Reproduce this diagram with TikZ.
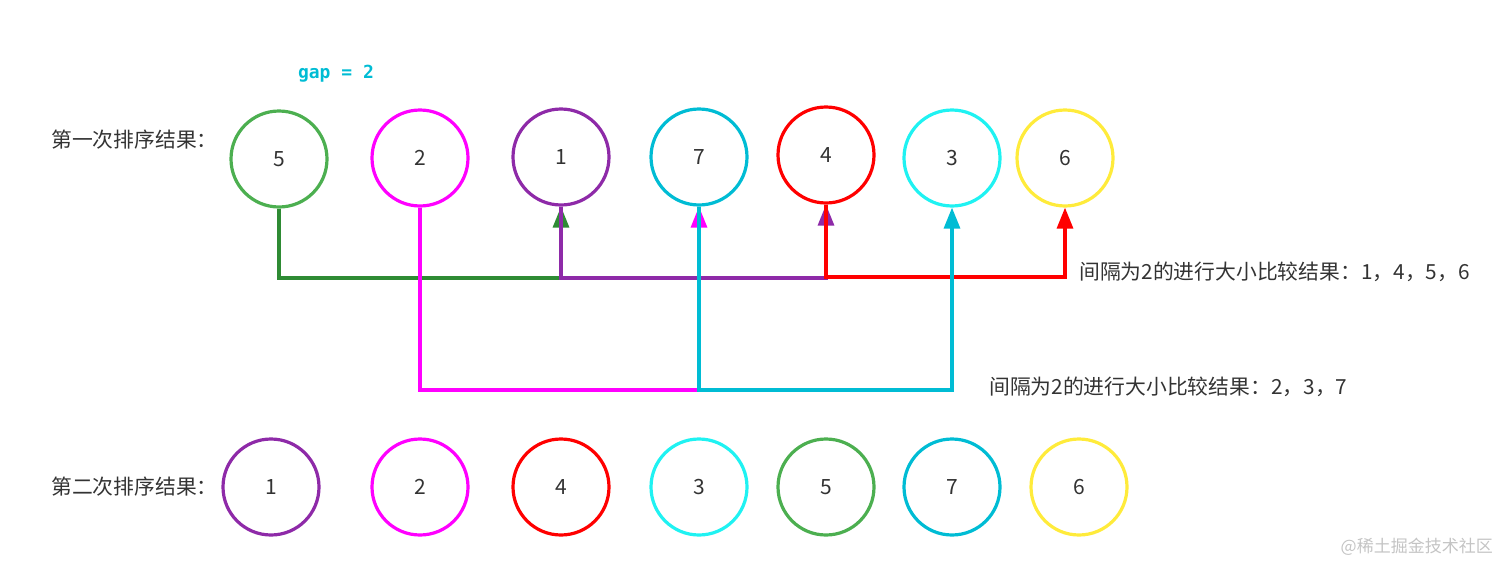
\documentclass[tikz,border=0pt]{standalone}
\usepackage{fontspec}
\setmainfont{Noto Sans CJK SC}
\newfontfamily\gapfont{DejaVu Sans Mono}
\usetikzlibrary{arrows.meta}
\definecolor{txt}{HTML}{333333}
\definecolor{cgreen}{HTML}{4CAF50}
\definecolor{cgreenline}{HTML}{2E8B34}
\definecolor{cmag}{HTML}{FF00FF}
\definecolor{cpur}{HTML}{8E2AA8}
\definecolor{cteal}{HTML}{00BCD4}
\definecolor{cred}{HTML}{FF0000}
\definecolor{ccyan}{HTML}{1FF2F2}
\definecolor{cyel}{HTML}{FFEB3B}
\definecolor{wm}{HTML}{C4C4C4}
\begin{document}
\begin{tikzpicture}[x=1pt,y=-1pt,
  ball/.style={circle, draw=#1, line width=3.2pt, minimum size=96pt, inner sep=0pt,
    text=txt, font=\fontsize{21}{24}\selectfont},
  conn/.style={line width=3.2pt, draw=#1},
  tipc/.style={-{Triangle[width=16pt,length=21pt,color=#1]}},
  lbl/.style={anchor=west, text=txt, inner sep=0pt, font=\fontsize{20.8}{24}\selectfont}]
\useasboundingbox (0,0) rectangle (1512,573);
% top row
\node[ball=cgreen] (t5) at (279,159) {5};
\node[ball=cmag]   (t2) at (420,158) {2};
\node[ball=cpur]   (t1) at (561,157) {1};
\node[ball=cteal]  (t7) at (699,157) {7};
\node[ball=cred]   (t4) at (826,155) {4};
\node[ball=ccyan]  (t3) at (952,158) {3};
\node[ball=cyel]   (t6) at (1065,158) {6};
% bottom row
\node[ball=cpur]   (b1) at (271,487) {1};
\node[ball=cmag]   (b2) at (420,487) {2};
\node[ball=cred]   (b4) at (561,487) {4};
\node[ball=ccyan]  (b3) at (699,487) {3};
\node[ball=cgreen] (b5) at (826,487) {5};
\node[ball=cteal]  (b7) at (952,487) {7};
\node[ball=cyel]   (b6) at (1079,487) {6};
% labels
\node[text=cteal, font=\gapfont\bfseries\fontsize{18}{20}\selectfont] (gap) at (336,74) {gap = 2};
\node[lbl] (l1) at (51,140) {第一次排序结果：};
\node[lbl] (l2) at (51,487) {第二次排序结果：};
\node[lbl] (r1t) at (1079,272) {间隔为2的进行大小比较结果：1，4，5，6};
\node[lbl] (r2t) at (989,387) {间隔为2的进行大小比较结果：2，3，7};
\node[text=wm, anchor=east, inner sep=0pt, font=\fontsize{17}{20}\selectfont] (wmk) at (1493,547) {@稀土掘金技术社区};
% levels
\coordinate (ya) at (0,278);
\coordinate (yb) at (0,277);
\coordinate (yc) at (0,390);
% connectors (gap 2, group 1)
\draw[conn=cgreenline, tipc=cgreenline] (t5.south) -- (t5.south |- ya) -- (t1.south |- ya) -- (t1.south);
\draw[conn=cpur, tipc=cpur] (t1.south) -- (t1.south |- ya) -- (t4.south |- ya) -- (t4.south);
\draw[conn=cred, tipc=cred] (t4.south) -- (t4.south |- yb) -- (t6.south |- yb) -- (t6.south);
% group 2
\draw[conn=cmag, tipc=cmag] (t2.south) -- (t2.south |- yc) -- (t7.south |- yc) -- (t7.south);
\draw[conn=cteal, tipc=cteal] (t7.south) -- (t7.south |- yc) -- (t3.south |- yc) -- (t3.south);
\end{tikzpicture}
\end{document}
